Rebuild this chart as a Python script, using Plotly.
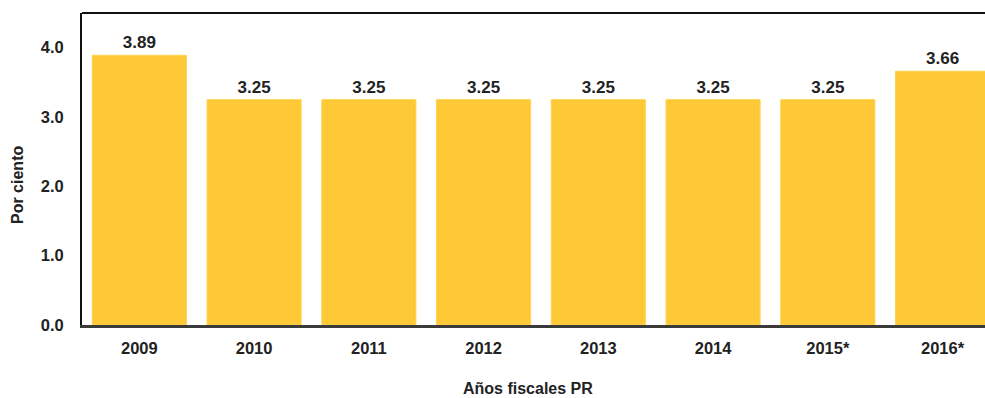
import plotly.graph_objects as go

years = ["2009", "2010", "2011", "2012", "2013", "2014", "2015*", "2016*"]
values = [3.89, 3.25, 3.25, 3.25, 3.25, 3.25, 3.25, 3.66]
value_labels = ["3.89", "3.25", "3.25", "3.25", "3.25", "3.25", "3.25", "3.66"]
y_ticks = [0, 1, 2, 3, 4]
y_tick_labels = ["0.0", "1.0", "2.0", "3.0", "4.0"]

FONT = "Liberation Sans, Arial, sans-serif"

fig = go.Figure()
fig.add_trace(go.Bar(
    x=list(range(len(years))),
    y=values,
    text=value_labels,
    textposition="outside",
    cliponaxis=False,
    textfont=dict(family=FONT, size=17, color="#222222", weight="bold"),
    marker=dict(
        color="#FEC630",
        line=dict(color="#FFD24E", width=1),
        pattern=dict(shape="+", fgcolor="#FFD65A", bgcolor="#FEC630", size=4, solidity=0.25),
    ),
    width=0.82,
))

fig.update_layout(
    width=985, height=398,
    margin=dict(l=82, r=0, t=13, b=73),
    paper_bgcolor="white", plot_bgcolor="white",
    showlegend=False,
    font=dict(family=FONT, color="#222222"),
    xaxis=dict(
        range=[-0.5, 7.37],
        tickmode="array",
        tickvals=list(range(len(years))),
        ticktext=years,
        tickfont=dict(family=FONT, size=16.5, color="#222222", weight="bold"),
        showgrid=False, zeroline=False,
        showline=True, linecolor="#3a3a3a", linewidth=3,
        ticks="", ticklabelstandoff=6,
    ),
    yaxis=dict(
        range=[0, 4.5],
        tickmode="array",
        tickvals=y_ticks,
        ticktext=y_tick_labels,
        tickfont=dict(family=FONT, size=16.5, color="#222222", weight="bold"),
        showgrid=False, zeroline=False,
        showline=True, linecolor="#111111", linewidth=2,
        ticks="", ticklabelstandoff=13,
    ),
    shapes=[dict(type="line", xref="paper", yref="paper", x0=0, x1=1, y0=1, y1=1,
                 line=dict(color="#111111", width=2))],
    annotations=[
        dict(text="Años fiscales PR", xref="paper", yref="paper", x=(528 - 82) / 903, y=-(388 - 325) / 312,
             showarrow=False, font=dict(family=FONT, size=16, color="#222222", weight="bold"),
             xanchor="center", yanchor="middle"),
        dict(text="Por ciento", xref="paper", yref="paper", x=-(82 - 17) / 903, y=(325 - 185) / 312,
             showarrow=False, textangle=-90, font=dict(family=FONT, size=16, color="#222222", weight="bold"),
             xanchor="center", yanchor="middle"),
    ],
)

fig.write_html("out.html")
